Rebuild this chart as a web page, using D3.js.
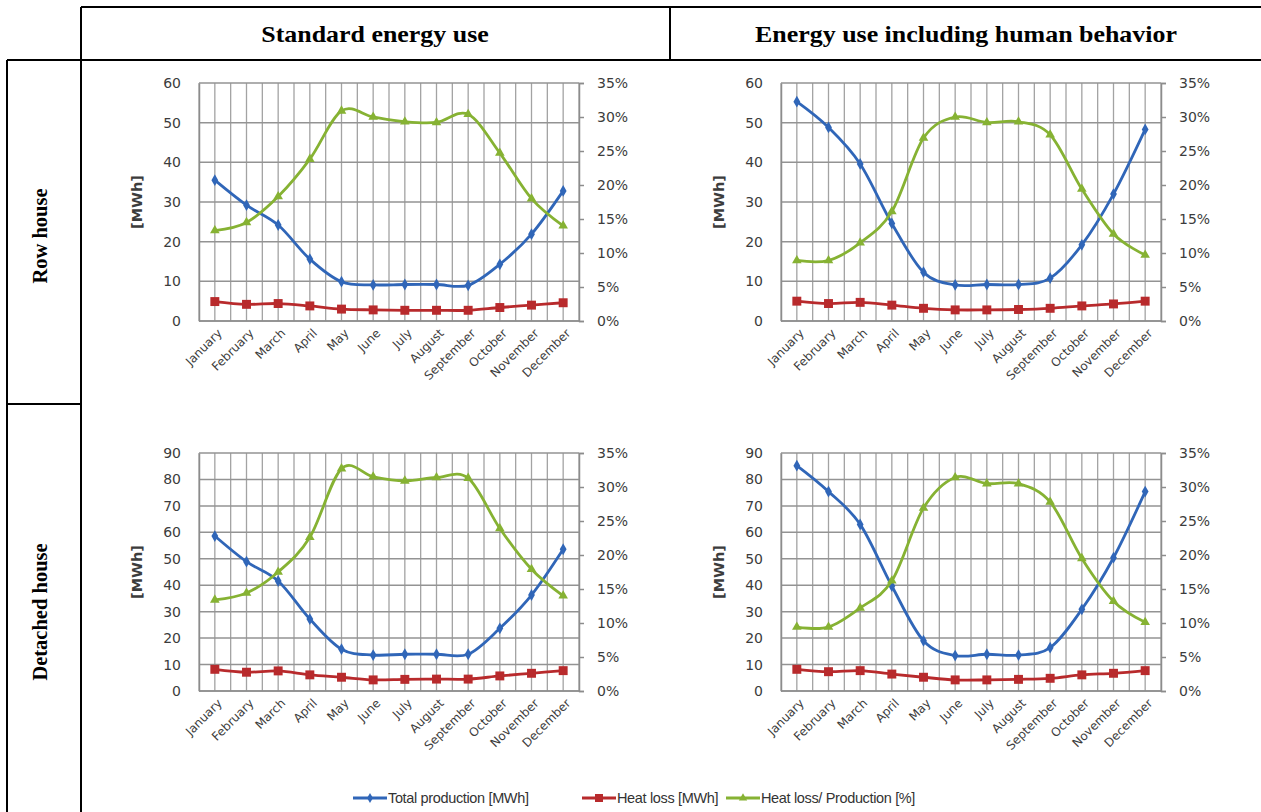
<!DOCTYPE html>
<html>
<head>
<meta charset="utf-8">
<script src="https://cdn.jsdelivr.net/npm/d3@7"></script>
<style>
  html, body { margin: 0; padding: 0; background: #fff; }
  svg { display: block; }
</style>
</head>
<body>
<svg id="chart" width="1261" height="812"></svg>
<script>
// Monthly categories shared by all four charts
const months = ["January", "February", "March", "April", "May", "June", "July",
  "August", "September", "October", "November", "December"];

// Row house, standard energy use
const rowStdProduction = [35.5, 29.2, 24.2, 15.6, 9.9, 9.1, 9.2, 9.2, 9.0, 14.3, 21.9, 32.8];
const rowStdHeatLoss   = [4.9, 4.2, 4.4, 3.8, 3.0, 2.8, 2.7, 2.7, 2.7, 3.4, 4.0, 4.6];
const rowStdRatio      = [13.3, 14.5, 18.3, 23.8, 30.9, 30.0, 29.3, 29.2, 30.4, 24.7, 18.0, 14.0];

// Row house, energy use including human behavior
const rowHumProduction = [55.3, 48.8, 39.6, 24.6, 12.3, 9.1, 9.2, 9.2, 10.8, 19.2, 32.0, 48.3];
const rowHumHeatLoss   = [5.0, 4.4, 4.7, 4.0, 3.2, 2.8, 2.8, 2.9, 3.2, 3.8, 4.3, 5.0];
const rowHumRatio      = [8.9, 8.9, 11.5, 16.1, 26.9, 30.0, 29.2, 29.3, 27.4, 19.4, 12.8, 9.7];

// Detached house, standard energy use
const detStdProduction = [58.6, 48.9, 41.6, 27.2, 15.8, 13.6, 13.9, 13.9, 13.9, 23.7, 36.3, 53.6];
const detStdHeatLoss   = [8.2, 7.1, 7.6, 6.1, 5.2, 4.2, 4.4, 4.5, 4.5, 5.7, 6.7, 7.7];
const detStdRatio      = [13.4, 14.4, 17.5, 22.6, 32.7, 31.5, 30.9, 31.4, 31.3, 23.9, 17.9, 14.0];

// Detached house, energy use including human behavior
const detHumProduction = [85.2, 75.4, 63.0, 39.7, 19.0, 13.4, 13.9, 13.6, 16.4, 30.9, 50.4, 75.4];
const detHumHeatLoss   = [8.2, 7.3, 7.7, 6.4, 5.2, 4.2, 4.2, 4.4, 4.8, 6.1, 6.7, 7.7];
const detHumRatio      = [9.4, 9.4, 12.2, 16.2, 26.9, 31.4, 30.5, 30.5, 27.8, 19.5, 13.2, 10.1];

// Axis tick values
const rowMwhTicks = [0, 10, 20, 30, 40, 50, 60];
const detMwhTicks = [0, 10, 20, 30, 40, 50, 60, 70, 80, 90];
const percentTicks = [0, 5, 10, 15, 20, 25, 30, 35];

// Table headings and legend labels
const columnHeaders = ["Standard energy use", "Energy use including human behavior"];
const rowHeaders = ["Row house", "Detached house"];
const seriesNames = ["Total production [MWh]", "Heat loss [MWh]", "Heat loss/ Production  [%]"];

const colors = { production: "#3066b8", loss: "#b82a2c", ratio: "#86b233" };
const tickFont = "'DejaVu Sans', Verdana, sans-serif";
const serifFont = "'Liberation Serif', 'Times New Roman', serif";

const svg = d3.select("#chart");

// ---- table frame ----
const frame = svg.append("g").attr("stroke", "#000").attr("stroke-width", 2).attr("fill", "none");
frame.append("line").attr("x1", 81).attr("y1", 7).attr("x2", 1261).attr("y2", 7);
frame.append("line").attr("x1", 7).attr("y1", 60).attr("x2", 1261).attr("y2", 60);
frame.append("line").attr("x1", 81).attr("y1", 7).attr("x2", 81).attr("y2", 812);
frame.append("line").attr("x1", 670).attr("y1", 7).attr("x2", 670).attr("y2", 60);
frame.append("line").attr("x1", 7).attr("y1", 60).attr("x2", 7).attr("y2", 812);
frame.append("line").attr("x1", 7).attr("y1", 404).attr("x2", 81).attr("y2", 404);

// column headings
svg.selectAll("text.colhead").data(columnHeaders).join("text")
  .attr("class", "colhead")
  .attr("transform", (d, i) => `translate(${i === 0 ? 375 : 966},42) scale(1.08,1)`)
  .attr("text-anchor", "middle")
  .attr("font-family", serifFont)
  .attr("font-weight", "bold")
  .attr("font-size", 24)
  .text(d => d);

svg.selectAll("text.rowhead").data(rowHeaders).join("text")
  .attr("class", "rowhead")
  .attr("transform", (d, i) => `translate(47,${i === 0 ? 236 : 612}) rotate(-90)`)
  .attr("text-anchor", "middle")
  .attr("font-family", serifFont)
  .attr("font-weight", "bold")
  .attr("font-size", 20.5)
  .text(d => d);

// ---- chart panels ----
const panels = [
  { left: 199, top: 83, mwhTicks: rowMwhTicks, production: rowStdProduction, loss: rowStdHeatLoss, ratio: rowStdRatio },
  { left: 781, top: 83, mwhTicks: rowMwhTicks, production: rowHumProduction, loss: rowHumHeatLoss, ratio: rowHumRatio },
  { left: 199, top: 453, mwhTicks: detMwhTicks, production: detStdProduction, loss: detStdHeatLoss, ratio: detStdRatio },
  { left: 781, top: 453, mwhTicks: detMwhTicks, production: detHumProduction, loss: detHumHeatLoss, ratio: detHumRatio }
];
const plotW = 380, plotH = 238;

function drawPanel(p) {
  const g = svg.append("g").attr("transform", `translate(${p.left},${p.top})`);

  const x = d3.scaleBand().domain(months).range([0, plotW]);
  const yL = d3.scaleLinear().domain([0, d3.max(p.mwhTicks)]).range([plotH, 0]);
  const yR = d3.scaleLinear().domain([0, 35]).range([plotH, 0]);
  const cx = m => x(m) + x.bandwidth() / 2;

  // vertical grid: category boundaries and centres
  const vLines = [];
  months.forEach(m => { vLines.push(x(m)); vLines.push(cx(m)); });
  vLines.push(plotW);
  g.append("g").selectAll("line").data(vLines).join("line")
    .attr("x1", d => d).attr("x2", d => d)
    .attr("y1", 0).attr("y2", plotH)
    .attr("stroke", "#a3a3a3").attr("stroke-width", 1.3);

  // horizontal grid from the MWh axis
  g.append("g").selectAll("line").data(p.mwhTicks).join("line")
    .attr("x1", 0).attr("x2", plotW)
    .attr("y1", d => yL(d)).attr("y2", d => yL(d))
    .attr("stroke", "#939393").attr("stroke-width", 1.5);

  // left axis
  const leftAxis = g.append("g")
    .call(d3.axisLeft(yL).tickValues(p.mwhTicks).tickSize(0).tickPadding(18));
  leftAxis.select(".domain").attr("stroke", "#8c8c8c").attr("stroke-width", 1.5);
  leftAxis.selectAll("text").attr("font-family", tickFont).attr("font-size", 14).attr("fill", "#3c3c3c");

  // right axis (percent)
  const rightAxis = g.append("g").attr("transform", `translate(${plotW},0)`)
    .call(d3.axisRight(yR).tickValues(percentTicks).tickSize(5).tickPadding(13).tickFormat(d => d + "%"));
  rightAxis.select(".domain").attr("stroke", "#8c8c8c").attr("stroke-width", 1.5);
  rightAxis.selectAll("line").attr("stroke", "#8c8c8c").attr("stroke-width", 1.5);
  rightAxis.selectAll("text").attr("font-family", tickFont).attr("font-size", 14).attr("fill", "#3c3c3c");

  // bottom axis line and rotated month labels
  g.append("line").attr("x1", 0).attr("x2", plotW).attr("y1", plotH).attr("y2", plotH)
    .attr("stroke", "#8c8c8c").attr("stroke-width", 1.5);
  g.append("g").selectAll("text").data(months).join("text")
    .attr("transform", m => `translate(${cx(m) + 5},${plotH + 10}) rotate(-45)`)
    .attr("text-anchor", "end")
    .attr("dy", "0.35em")
    .attr("font-family", tickFont)
    .attr("font-size", 12)
    .attr("fill", "#3c3c3c")
    .text(m => m);

  // unit label
  g.append("text")
    .attr("transform", `translate(-57,${plotH / 2}) rotate(-90)`)
    .attr("text-anchor", "middle")
    .attr("font-family", tickFont)
    .attr("font-weight", "bold")
    .attr("font-size", 14.5)
    .attr("fill", "#3c3c3c")
    .text("[MWh]");

  const curve = d3.curveCardinal.tension(0);
  const series = [
    { values: p.production, y: yL, color: colors.production, symbol: d3.symbolDiamond, size: 40 },
    { values: p.loss, y: yL, color: colors.loss, symbol: d3.symbolSquare, size: 80 },
    { values: p.ratio, y: yR, color: colors.ratio, symbol: d3.symbolTriangle, size: 40 }
  ];
  series.forEach(s => {
    const line = d3.line().x((d, i) => cx(months[i])).y(d => s.y(d)).curve(curve);
    g.append("path").datum(s.values)
      .attr("d", line)
      .attr("fill", "none")
      .attr("stroke", s.color)
      .attr("stroke-width", 2.8)
      .attr("stroke-linejoin", "round");
    g.append("g").selectAll("path").data(s.values).join("path")
      .attr("transform", (d, i) => `translate(${cx(months[i])},${s.y(d)})`)
      .attr("d", d3.symbol().type(s.symbol).size(s.size))
      .attr("fill", s.color);
  });
}
panels.forEach(drawPanel);

// ---- legend ----
const legendItems = [
  { name: seriesNames[0], color: colors.production, symbol: d3.symbolDiamond, size: 30, x: 353 },
  { name: seriesNames[1], color: colors.loss, symbol: d3.symbolSquare, size: 64, x: 582 },
  { name: seriesNames[2], color: colors.ratio, symbol: d3.symbolTriangle, size: 30, x: 726 }
];
const legend = svg.append("g");
legendItems.forEach(it => {
  const lg = legend.append("g").attr("transform", `translate(${it.x},798)`);
  lg.append("line").attr("x1", 0).attr("x2", 34).attr("y1", 0).attr("y2", 0)
    .attr("stroke", it.color).attr("stroke-width", 2.8);
  lg.append("path").attr("transform", "translate(17,0)")
    .attr("d", d3.symbol().type(it.symbol).size(it.size)).attr("fill", it.color);
  lg.append("text").attr("x", 35).attr("y", 0).attr("dy", "0.35em")
    .attr("font-family", "'Liberation Sans', Arial, sans-serif")
    .attr("font-size", 14.5)
    .attr("letter-spacing", -0.35)
    .attr("fill", "#333")
    .text(it.name);
});
</script>
</body>
</html>
